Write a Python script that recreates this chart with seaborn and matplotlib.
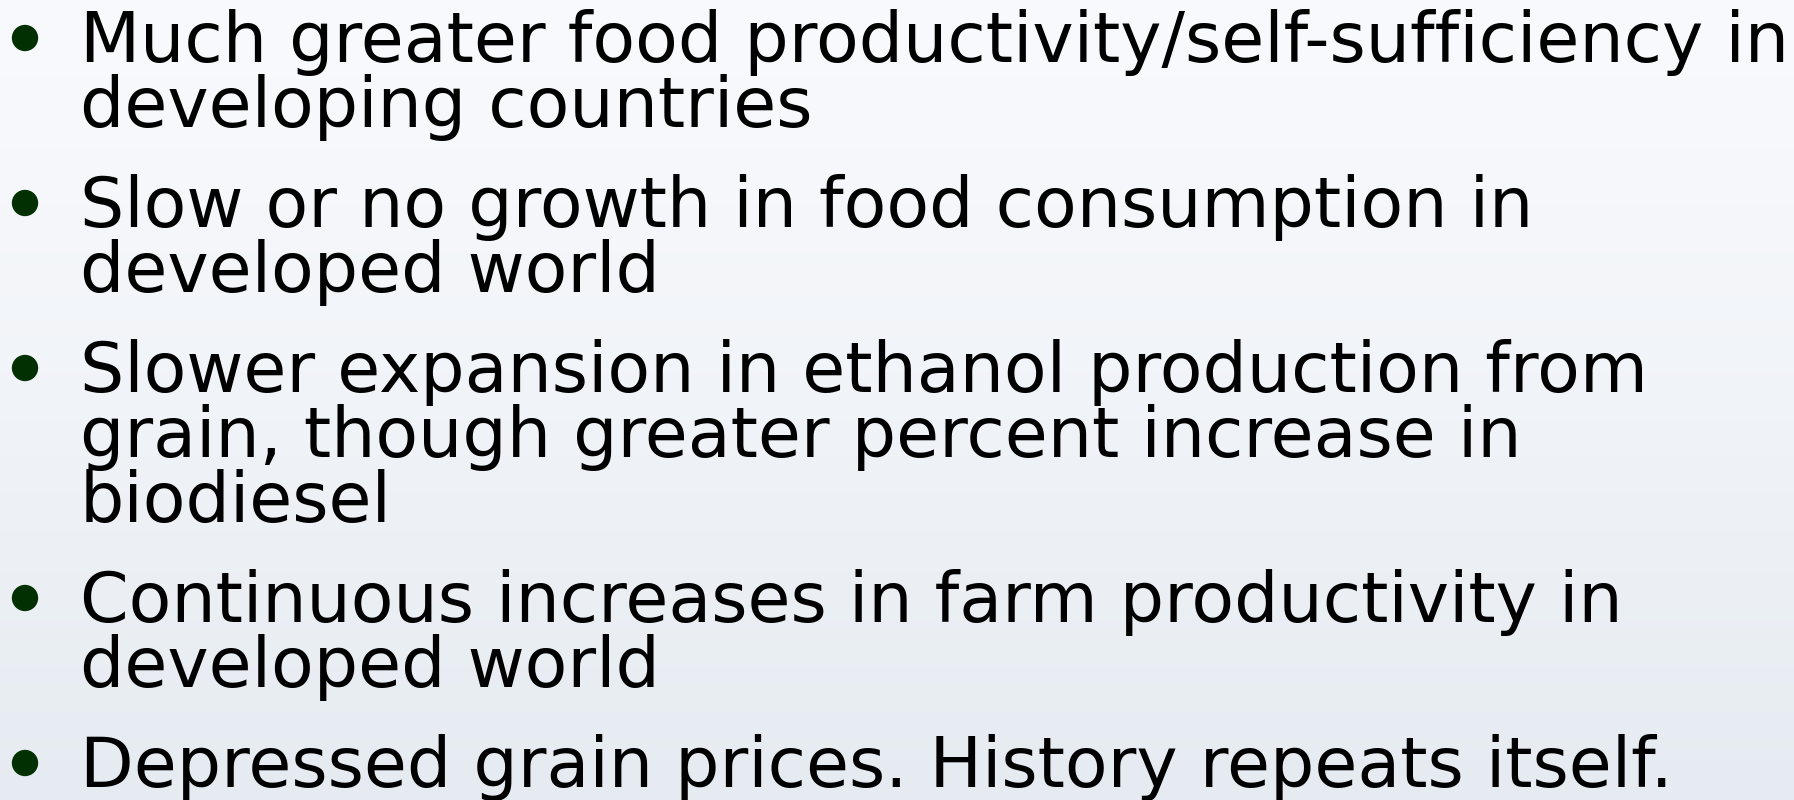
import numpy as np
import pandas as pd
import matplotlib
matplotlib.use("Agg")
import matplotlib.pyplot as plt
import seaborn as sns

# slide content: one list of lines per bullet
bullet_1 = ["Much greater food productivity/self-sufficiency in", "developing countries"]
bullet_2 = ["Slow or no growth in food consumption in", "developed world"]
bullet_3 = ["Slower expansion in ethanol production from",
            "grain, though greater percent increase in", "biodiesel"]
bullet_4 = ["Continuous increases in farm productivity in", "developed world"]
bullet_5 = ["Depressed grain prices. History repeats itself."]
bullets = [bullet_1, bullet_2, bullet_3, bullet_4, bullet_5]

W, H = 1794, 800
sns.set_theme(style="white")
plt.rcParams["font.family"] = ["DejaVu Sans"]

fig = plt.figure(figsize=(W / 100, H / 100), dpi=100)
ax = fig.add_axes([0, 0, 1, 1])
ax.set_xlim(0, W)
ax.set_ylim(H, 0)
ax.axis("off")

# soft blue-grey slide background
grad = np.linspace(0, 1, 256)[:, None]
top = np.array([0.976, 0.980, 0.992])
bot = np.array([0.900, 0.922, 0.945])
img = top + (bot - top) * grad[..., None] ** 1.2
img = np.repeat(img, 2, axis=1)
ax.imshow(img, extent=[0, W, H, 0], aspect="auto", zorder=0)

# text layout in pixels
first_base = 62
line_step = 65
para_step = 100
text_x = 80
bullet_x = 25

rows = []
y = first_base
for lines in bullets:
    rows.append({"x": bullet_x, "y": y - 24})
    for ln in lines:
        ax.text(text_x, y, ln, fontsize=50.2, color="black", va="baseline",
                ha="left", zorder=3)
        y += line_step
    y += para_step - line_step

marks = pd.DataFrame(rows)
sns.scatterplot(data=marks, x="x", y="y", ax=ax, s=360, color="#023002",
                edgecolor="none", zorder=3, legend=False)
ax.set_xlim(0, W)
ax.set_ylim(H, 0)

fig.savefig("out.png", dpi=100)
